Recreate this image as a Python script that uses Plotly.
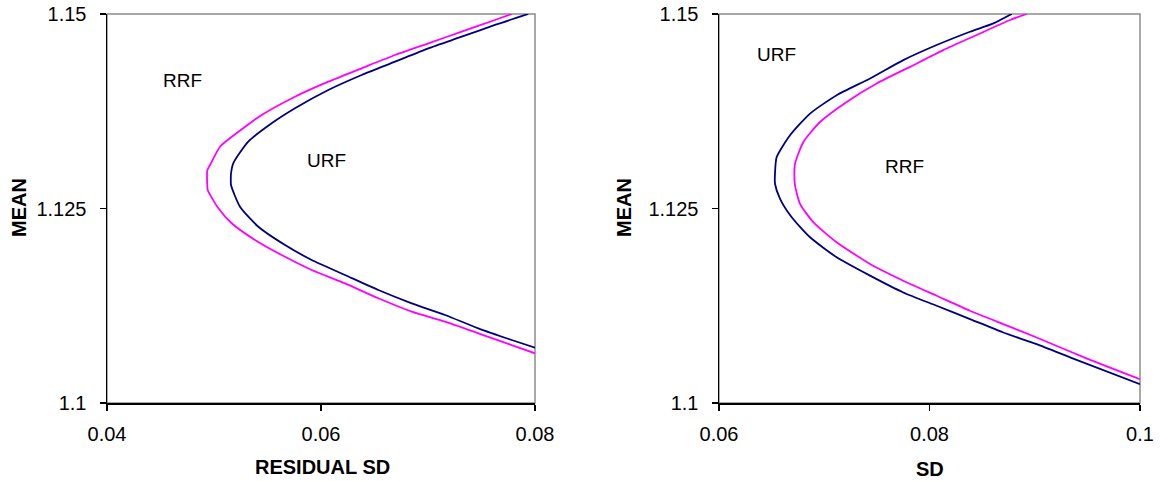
import plotly.graph_objects as go

W, H = 1163, 481

# ---- Left panel: MEAN vs RESIDUAL SD ----
left_rrf_x = [0.07782, 0.07626, 0.07315, 0.07003, 0.06692, 0.06380, 0.06068, 0.05757,
              0.05446, 0.05210, 0.05056, 0.04963, 0.04937, 0.04935, 0.04937, 0.04941,
              0.05041, 0.05165, 0.05383, 0.05601, 0.05913, 0.06224, 0.06536, 0.06848,
              0.07159, 0.07470, 0.07782, 0.08000]
left_rrf_y = [1.15000, 1.14923, 1.14773, 1.14623, 1.14473, 1.14302, 1.14130, 1.13937,
              1.13702, 1.13467, 1.13294, 1.13059, 1.12990, 1.12890, 1.12800, 1.12738,
              1.12502, 1.12310, 1.12095, 1.11924, 1.11710, 1.11538, 1.11346, 1.11174,
              1.11045, 1.10896, 1.10745, 1.10639]

left_urf_x = [0.07937, 0.07626, 0.07315, 0.07003, 0.06692, 0.06380, 0.06068, 0.05757,
              0.05539, 0.05320, 0.05180, 0.05159, 0.05157, 0.05159, 0.05243, 0.05414,
              0.05664, 0.05913, 0.06224, 0.06536, 0.06848, 0.07159, 0.07470, 0.07782,
              0.08000]
left_urf_y = [1.15000, 1.14859, 1.14708, 1.14559, 1.14387, 1.14216, 1.14023, 1.13788,
              1.13595, 1.13359, 1.13081, 1.12950, 1.12880, 1.12802, 1.12523, 1.12266,
              1.12031, 1.11838, 1.11645, 1.11452, 1.11281, 1.11131, 1.10960, 1.10810,
              1.10711]

# ---- Right panel: MEAN vs SD ----
right_urf_x = [0.08781, 0.08607, 0.08385, 0.08068, 0.07751, 0.07435, 0.07118, 0.06865,
               0.06675, 0.06548, 0.06532, 0.06532, 0.06580, 0.06691, 0.06865, 0.07118,
               0.07435, 0.07751, 0.08068, 0.08385, 0.08701, 0.09018, 0.09366, 0.10000]
right_urf_y = [1.15000, 1.14880, 1.14772, 1.14601, 1.14407, 1.14171, 1.13956, 1.13720,
               1.13441, 1.13161, 1.12950, 1.12818, 1.12625, 1.12388, 1.12130, 1.11873,
               1.11637, 1.11421, 1.11250, 1.11079, 1.10906, 1.10756, 1.10571, 1.10241]

right_rrf_x = [0.08923, 0.08765, 0.08448, 0.08131, 0.07815, 0.07498, 0.07213, 0.06960,
               0.06802, 0.06722, 0.06716, 0.06722, 0.06770, 0.06896, 0.07118, 0.07435,
               0.07751, 0.08068, 0.08385, 0.08701, 0.09018, 0.09509, 0.10000]
right_rrf_y = [1.15000, 1.14923, 1.14730, 1.14536, 1.14321, 1.14107, 1.13870, 1.13612,
               1.13355, 1.13076, 1.12920, 1.12796, 1.12560, 1.12324, 1.12066, 1.11787,
               1.11572, 1.11379, 1.11186, 1.11014, 1.10842, 1.10563, 1.10305]

y_ticks = [1.1, 1.125, 1.15]
y_labels = ["1.1", "1.125", "1.15"]
left_x_ticks = [0.04, 0.06, 0.08]
left_x_labels = ["0.04", "0.06", "0.08"]
right_x_ticks = [0.06, 0.08, 0.1]
right_x_labels = ["0.06", "0.08", "0.1"]

MAGENTA = "#FF00FF"
NAVY = "#000080"
FONT = "Arial, Liberation Sans, sans-serif"

fig = go.Figure()
line_kw = dict(width=1.8, shape="spline", smoothing=0.6)
fig.add_trace(go.Scatter(x=left_urf_x, y=left_urf_y, mode="lines",
                         line=dict(color=NAVY, **line_kw), xaxis="x", yaxis="y"))
fig.add_trace(go.Scatter(x=left_rrf_x, y=left_rrf_y, mode="lines",
                         line=dict(color=MAGENTA, **line_kw), xaxis="x", yaxis="y"))
fig.add_trace(go.Scatter(x=right_urf_x, y=right_urf_y, mode="lines",
                         line=dict(color=NAVY, **line_kw), xaxis="x2", yaxis="y2"))
fig.add_trace(go.Scatter(x=right_rrf_x, y=right_rrf_y, mode="lines",
                         line=dict(color=MAGENTA, **line_kw), xaxis="x2", yaxis="y2"))

def px2fx(p):
    return p / W

def py2fy(p):
    return 1 - p / H

ydom = [py2fy(403), py2fy(14)]
axis_common = dict(showline=True, linecolor="black", linewidth=1.5, ticks="outside",
                   ticklen=6, tickwidth=1.5, tickcolor="black", showgrid=False,
                   zeroline=False, automargin=False,
                   tickfont=dict(family=FONT, size=20, color="black"),
                   fixedrange=True)

fig.update_layout(
    width=W, height=H,
    margin=dict(l=0, r=0, t=0, b=0, autoexpand=False),
    paper_bgcolor="white", plot_bgcolor="white",
    showlegend=False,
    xaxis=dict(domain=[px2fx(107), px2fx(535)], range=[0.04, 0.08],
               tickvals=left_x_ticks, ticktext=left_x_labels, anchor="y",
               ticklabelstandoff=6, **axis_common),
    yaxis=dict(domain=ydom, range=[1.1, 1.15], tickvals=y_ticks, ticktext=y_labels,
               anchor="x", ticklabelstandoff=9, **axis_common),
    xaxis2=dict(domain=[px2fx(719), px2fx(1140)], range=[0.06, 0.1],
                tickvals=right_x_ticks, ticktext=right_x_labels, anchor="y2",
                ticklabelstandoff=6, **axis_common),
    yaxis2=dict(domain=ydom, range=[1.1, 1.15], tickvals=y_ticks, ticktext=y_labels,
                anchor="x2", ticklabelstandoff=9, **axis_common),
)

# gray plot-area frame (top and right edges)
for xr, yr in [("x domain", "y domain"), ("x2 domain", "y2 domain")]:
    fig.add_shape(type="rect", xref=xr, yref=yr, x0=0, x1=1, y0=0, y1=1,
                  line=dict(color="#8C8C8C", width=1.5), layer="below")

ann_font = dict(family=FONT, size=19, color="black")
title_font = dict(family=FONT, size=20, color="black")
center = dict(xanchor="center", yanchor="middle", showarrow=False)
annotations = [
    dict(text="RRF", x=0.0471, y=1.1414, xref="x", yref="y", font=ann_font, **center),
    dict(text="URF", x=0.0605, y=1.1312, xref="x", yref="y", font=ann_font, **center),
    dict(text="URF", x=0.0655, y=1.1448, xref="x2", yref="y2", font=ann_font, **center),
    dict(text="RRF", x=0.0776, y=1.1304, xref="x2", yref="y2", font=ann_font, **center),
    dict(text="<b>MEAN</b>", x=px2fx(19), y=py2fy(208), xref="paper", yref="paper",
         textangle=-90, font=title_font, **center),
    dict(text="<b>MEAN</b>", x=px2fx(624), y=py2fy(208), xref="paper", yref="paper",
         textangle=-90, font=title_font, **center),
    dict(text="<b>RESIDUAL SD</b>", x=px2fx(322), y=py2fy(467), xref="paper", yref="paper",
         font=title_font, **center),
    dict(text="<b>SD</b>", x=px2fx(930), y=py2fy(469), xref="paper", yref="paper",
         font=title_font, **center),
]
fig.update_layout(annotations=annotations)

fig.write_html(
    "out.html",
    config={"displayModeBar": False, "staticPlot": True},
    post_script="document.body.style.margin='0';document.body.style.overflow='hidden';",
)
